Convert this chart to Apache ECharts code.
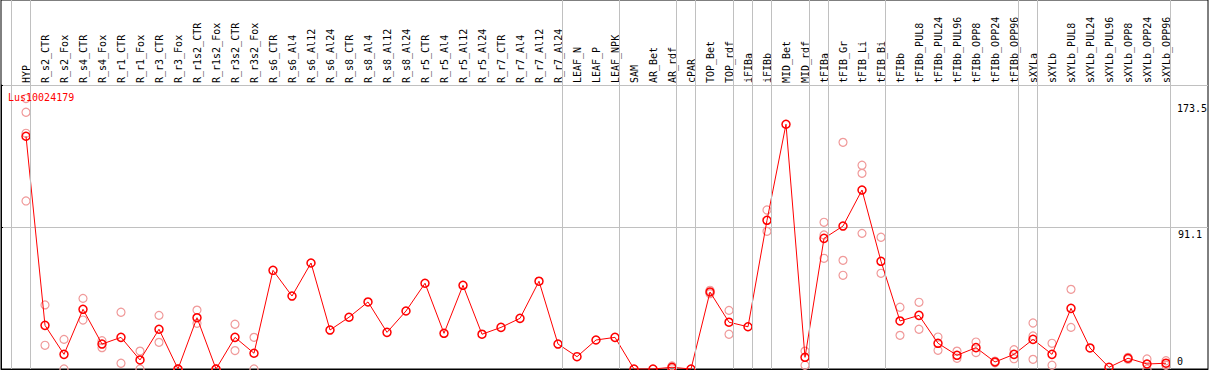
<!DOCTYPE html>
<html>
<head>
<meta charset="utf-8">
<script src="https://cdn.jsdelivr.net/npm/echarts@6/dist/echarts.min.js"></script>
<style>html,body{margin:0;padding:0;background:#fff}#c{width:1209px;height:370px}</style>
</head>
<body>
<div id="c"></div>
<script>
const geneName = 'Lus10024179';
const categories = ['HYP','R_s2_CTR','R_s2_Fox','R_s4_CTR','R_s4_Fox','R_r1_CTR','R_r1_Fox','R_r3_CTR','R_r3_Fox','R_r1s2_CTR','R_r1s2_Fox','R_r3s2_CTR','R_r3s2_Fox','R_s6_CTR','R_s6_Al4','R_s6_Al12','R_s6_Al24','R_s8_CTR','R_s8_Al4','R_s8_Al12','R_s8_Al24','R_r5_CTR','R_r5_Al4','R_r5_Al12','R_r5_Al24','R_r7_CTR','R_r7_Al4','R_r7_Al12','R_r7_Al24','LEAF_N','LEAF_P','LEAF_NPK','SAM','AR_Bet','AR_rdf','cPAR','TOP_Bet','TOP_rdf','iFIBa','iFIBb','MID_Bet','MID_rdf','tFIBa','tFIB_Gr','tFIB_Li','tFIB_Bi','tFIBb','tFIBb_PUL8','tFIBb_PUL24','tFIBb_PUL96','tFIBb_OPP8','tFIBb_OPP24','tFIBb_OPP96','sXYLa','sXYLb','sXYLb_PUL8','sXYLb_PUL24','sXYLb_PUL96','sXYLb_OPP8','sXYLb_OPP24','sXYLb_OPP96'];
const meanValues = [149.3,28.0,9.4,38.3,16.0,20.3,5.8,25.5,0,32.9,0,20.3,10.1,63.3,46.8,68.0,25.0,33.2,43.0,23.5,37.2,55.0,22.9,53.7,22.3,26.7,32.5,56.3,16.0,7.9,18.6,20.3,0,0,1.1,0,49.4,30.0,27.1,95.4,157.0,7.5,83.8,91.7,114.8,69.1,30.8,34.4,16.5,8.8,13.7,4.5,9.4,19.0,9.4,38.9,13.5,1.1,6.9,3.2,3.7];
const replicateValues = [
  [173.5,164.7,151.2,107.8],[41.1,15.2],[19.0,0],[45.3,31.4],[18.2,13.7],[36.4,3.7],[11.5,0],[34.4,17.1],[0,0],[37.8,29.3],[0,0],[28.7,11.8],[20.3,0],
  [],[],[],[],[],[],[],[],[],[],[],[],[],[],[],[],[],[],[],[],[],
  [2.0,0.2],[],[50.5,48.3],[37.6,22.3],[],[102.0,88.3],[],[11.5,2.4],
  [94.1,86.0,71.0],[145.4,69.7,60.1],[130.7,125.5,87.0],[84.5,61.4],
  [39.6,21.6],[42.8,25.5],[20.5,12.0],[11.5,6.9],[17.3,10.5],[5.0,4.0],[12.4,6.6],
  [29.5,21.2,6.2],[16.5,2.4],[51.1,26.7],[],[],[7.5,6.3],[6.4,0],[5.3,2.4]
];
const yLabelValues = [0, 91.1, 173.5];
const yLabelTexts = ['0', '91.1', '173.5'];
const groupSeparators = [-0.8,0.24,28.24,31.24,34.24,35.24,37.24,38.24,39.24,41.24,42.24,45.24,52.24,53.24,60.24];

const dataMax = 173.5;
const yMax = dataMax * 1.05;
// layout: first category at x=26, 19px per category, grid from x=1 to x=1208
const gLeft = 1, gRight = 1, chartW = 1209, firstX = 26, step = 19;
const xMin = (gLeft - firstX) / step;
const xMax = xMin + (chartW - gLeft - gRight) / step;
// label offsets (x from right edge, y from value line) for the right-hand value labels
const yLabelOffsets = [[25, 3], [6, 3], [1, 5]];

const meanData = meanValues.map((v, i) => [i, v]);
const repData = [];
replicateValues.forEach((arr, i) => arr.forEach(v => repData.push([i, v])));

const mono = 'DejaVu Sans Mono';
const chart = echarts.init(document.getElementById('c'), null, {renderer: 'svg'});
chart.setOption({
  animation: false,
  backgroundColor: '#fff',
  title: {
    text: geneName, left: 8, top: 92, padding: 0,
    textStyle: {color: '#ff0000', fontSize: 10, fontWeight: 'normal', fontFamily: mono}
  },
  grid: [
    {left: gLeft, right: gRight, top: 85, bottom: 1, show: false},
    {left: gLeft, right: gRight, top: 0, bottom: 1, show: true, borderColor: '#000', borderWidth: 1, backgroundColor: 'transparent'}
  ],
  xAxis: [
    {
      type: 'value', gridIndex: 0, position: 'top', min: xMin, max: xMax,
      axisLine: {show: true, lineStyle: {color: '#000', width: 1}},
      axisTick: {show: false}, splitLine: {show: false},
      axisLabel: {
        show: true, rotate: 90, margin: 2, fontSize: 10, fontFamily: mono, color: '#000',
        customValues: categories.map((_, i) => i),
        formatter: v => categories[Math.round(v)] || ''
      }
    },
    {type: 'value', gridIndex: 1, min: xMin, max: xMax, show: false}
  ],
  yAxis: [
    {
      type: 'value', gridIndex: 0, min: 0, max: yMax, interval: yMax / 2,
      axisLine: {show: true, onZero: false, lineStyle: {color: '#000'}},
      axisTick: {show: true, inside: true, length: 2, lineStyle: {color: '#000'}},
      axisLabel: {show: false},
      splitLine: {show: true, lineStyle: {color: '#c0c0c0', width: 1}}
    },
    {type: 'value', gridIndex: 1, min: 0, max: 1, show: false}
  ],
  series: [
    {
      type: 'line', xAxisIndex: 1, yAxisIndex: 1, data: [], z: 1, silent: true,
      markLine: {
        symbol: 'none', silent: true, animation: false,
        lineStyle: {color: '#c0c0c0', type: 'solid', width: 1},
        label: {show: false},
        data: groupSeparators.map(v => ({xAxis: v}))
      }
    },
    {
      type: 'scatter', xAxisIndex: 0, yAxisIndex: 0, data: repData, z: 3,
      symbol: 'circle', symbolSize: 8,
      itemStyle: {color: 'rgba(0,0,0,0)', borderColor: '#f09a9a', borderWidth: 1.2, opacity: 1}
    },
    {
      type: 'line', xAxisIndex: 0, yAxisIndex: 0, data: meanData, z: 4,
      showAllSymbol: true, symbol: 'circle', symbolSize: 8,
      lineStyle: {color: '#ff0000', width: 1},
      itemStyle: {color: 'rgba(0,0,0,0)', borderColor: '#ff0000', borderWidth: 1.5},
      markLine: {
        symbol: 'none', silent: true, animation: false,
        lineStyle: {color: 'rgba(0,0,0,0)', width: 0},
        data: yLabelValues.map((v, i) => ({
          yAxis: v,
          label: {
            show: true, formatter: yLabelTexts[i],
            position: v === 0 ? 'insideEndTop' : 'insideEndBottom',
            distance: yLabelOffsets[i],
            fontSize: 10, fontFamily: mono, color: '#000'
          }
        }))
      }
    }
  ]
});
</script>
</body>
</html>
